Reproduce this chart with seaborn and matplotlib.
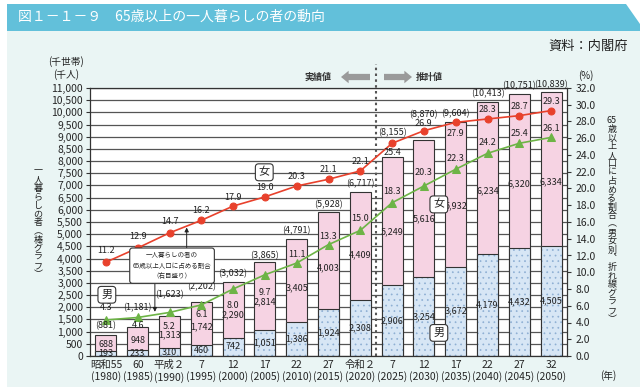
import numpy as np
import pandas as pd
import matplotlib
matplotlib.use("Agg")
import matplotlib.pyplot as plt
from matplotlib.patches import Polygon, Rectangle
from matplotlib.ticker import MultipleLocator, FuncFormatter
import seaborn as sns

sns.set_theme(style="white")
plt.rcParams["font.family"] = ["Noto Sans CJK JP", "DejaVu Sans"]
plt.rcParams["hatch.linewidth"] = 0.5

# ── data ─────────────────────────────────────────────────────────────────────
years = [1980, 1985, 1990, 1995, 2000, 2005, 2010, 2015, 2020,
         2025, 2030, 2035, 2040, 2045, 2050]
era_labels = ["昭和55", "60", "平成２", "7", "12", "17", "22", "27", "令和２",
              "7", "12", "17", "22", "27", "32"]
male = [193, 233, 310, 460, 742, 1051, 1386, 1924, 2308,
        2906, 3254, 3672, 4179, 4432, 4505]
female = [688, 948, 1313, 1742, 2290, 2814, 3405, 4003, 4409,
          5249, 5616, 5932, 6234, 6320, 6334]
total = [881, 1181, 1623, 2202, 3032, 3865, 4791, 5928, 6717,
         8155, 8870, 9604, 10413, 10751, 10839]
female_pct = [11.2, 12.9, 14.7, 16.2, 17.9, 19.0, 20.3, 21.1, 22.1,
              25.4, 26.9, 27.9, 28.3, 28.7, 29.3]
male_pct = [4.3, 4.6, 5.2, 6.1, 8.0, 9.7, 11.1, 13.3, 15.0,
            18.3, 20.3, 22.3, 24.2, 25.4, 26.1]

# label offsets (points) – placement only
total_dy = [6.5, 14, 16, 11, 6, 4.5, 6, 5, 6.5, 18, 18, 6, 6, 6, 5]
female_dy = [8.5, 8.5, 8.5, 7, 6.5, 7, 7, 7, 6.5, -7, 5.5, -8, 7, 6.5, 6.5]
male_dy = [9, -6, -10, -7, -12, -13, 6.5, 6, 8.5, 8, 9.5, 8, 8, 7, 6.5]

PINK = "#F6D3E3"
BLUE = "#D7E6F5"
DOTS = "#8EAFD3"
RED = "#E8412C"
GREEN = "#6DB446"
EDGE = "#333333"
BG = "#EAF5F4"
BANNER = "#62C0DA"

df = pd.DataFrame({"year": [str(y) for y in years], "male": male,
                   "female": female, "total": total})
order = df["year"].tolist()
pos = np.arange(len(years))

W, H = 640, 387


def fx(px):
    return px / W


def fy(py):
    return 1 - py / H


fig = plt.figure(figsize=(6.4, 3.87), dpi=100)
fig.patch.set_facecolor("white")

# background panel + title banner
fig.patches.append(Rectangle((fx(7), 0), 1, fy(30), transform=fig.transFigure,
                             facecolor=BG, edgecolor="none", zorder=-10))
fig.patches.append(Polygon([(fx(7), fy(4)), (fx(626), fy(4)), (fx(640), fy(24)),
                            (fx(640), fy(31)), (fx(7), fy(31))],
                           closed=True, transform=fig.transFigure,
                           facecolor=BANNER, edgecolor="none", zorder=-9))
fig.text(fx(18), fy(17), "図１－１－９　65歳以上の一人暮らしの者の動向",
         color="white", fontsize=10, va="center", ha="left")
fig.text(fx(628), fy(46), "資料：内閣府", fontsize=9.5, va="center", ha="right",
         color="#222")

ax = fig.add_axes([fx(90), fy(356), (567 - 90) / W, (356 - 88) / H])
ax.set_facecolor("white")

# ── bars ─────────────────────────────────────────────────────────────────────
sns.barplot(data=df, x="year", y="total", order=order, color=PINK,
            saturation=1, width=0.66, edgecolor=EDGE, linewidth=0.8, ax=ax)
sns.barplot(data=df, x="year", y="male", order=order, color=BLUE,
            saturation=1, width=0.66, edgecolor=DOTS, linewidth=0,
            hatch="...", ax=ax)
sns.barplot(data=df, x="year", y="male", order=order, color=EDGE,
            fill=False, width=0.66, linewidth=0.8, ax=ax)

ax.set_xlim(-0.5, 14.5)
ax.set_ylim(0, 11000)
ax.yaxis.set_major_locator(MultipleLocator(500))
ax.yaxis.set_major_formatter(FuncFormatter(lambda v, _: f"{v:,.0f}"))
ax.grid(axis="y", color="#555555", lw=0.9)
ax.set_axisbelow(True)
ax.set_xticks(pos)
ax.set_xticklabels([f"{e}\n({y})" for e, y in zip(era_labels, years)],
                   fontsize=7.5, linespacing=1.15)
ax.tick_params(axis="x", length=0, pad=3)
ax.tick_params(axis="y", length=3, width=0.8, labelsize=7.5, pad=2,
               left=True, color=EDGE)
ax.set_xlabel("")
ax.set_ylabel("")
for s in ax.spines.values():
    s.set_color(EDGE)
    s.set_linewidth(0.9)

# projection divider
ax.axvline(8.5, ymin=0, ymax=1.09, color="#555555", ls=(0, (1.2, 1.6)),
           lw=1.5, clip_on=False, zorder=5)

# ── lines (right axis) ───────────────────────────────────────────────────────
ax2 = ax.twinx()
sns.lineplot(x=pos, y=female_pct, ax=ax2, color=RED, marker="o",
             markersize=5, markeredgecolor=RED, lw=1.2)
sns.lineplot(x=pos, y=male_pct, ax=ax2, color=GREEN, marker="^",
             markersize=5.5, markeredgecolor=GREEN, lw=1.2)
ax2.set_ylim(0, 32)
ax2.yaxis.set_major_locator(MultipleLocator(2))
ax2.yaxis.set_major_formatter(FuncFormatter(lambda v, _: f"{v:.1f}"))
ax2.tick_params(axis="y", length=3, width=0.8, labelsize=7.5, pad=3,
                right=True, color=EDGE)
ax2.grid(False)
ax2.set_ylabel("")
for s in ax2.spines.values():
    s.set_visible(False)

# ── value labels ─────────────────────────────────────────────────────────────
lab = dict(ha="center", va="center", fontsize=6.5, color="#222",
           textcoords="offset points")
for i in range(len(years)):
    ax2.annotate(f"({total[i]:,})", (i, total[i]), xycoords=ax.transData,
                 xytext=(0, total_dy[i]), annotation_clip=False, **lab)
    ax2.annotate(f"{female[i]:,}", (i, male[i] + female[i] * 0.42),
                 xycoords=ax.transData, xytext=(0, 0), **lab)
    ax2.annotate(f"{male[i]:,}", (i, male[i] / 2), xycoords=ax.transData,
                 xytext=(0, 0), **lab)
    ax2.annotate(f"{female_pct[i]:.1f}", (i, female_pct[i]),
                 xytext=(0, female_dy[i]), **lab)
    ax2.annotate(f"{male_pct[i]:.1f}", (i, male_pct[i]),
                 xytext=(0, male_dy[i]), **lab)

box = dict(boxstyle="round,pad=0.3,rounding_size=0.3", fc="white", ec=EDGE, lw=0.8)
for x, y, s in [(4.98, 7540, "女"), (10.47, 6222, "女"),
                (0.03, 2513, "男"), (10.47, 948, "男")]:
    ax2.text(x, y, s, transform=ax.transData, ha="center", va="center",
             fontsize=8, bbox=box, zorder=6)

# explanatory call-out
arrow = dict(arrowstyle="-|>", color="#222", lw=0.7, mutation_scale=6,
             shrinkA=0, shrinkB=0)
ax2.annotate("", xy=(2.54, 5274), xytext=(2.54, 4244), xycoords=ax.transData,
             textcoords=ax.transData, arrowprops=arrow, zorder=4)
ax2.annotate("", xy=(1.54, 1813), xytext=(1.54, 3173), xycoords=ax.transData,
             textcoords=ax.transData, arrowprops=arrow, zorder=4)
ax2.text(2.08, 3708, "一人暮らしの者の\n65歳以上人口に占める割合\n（右目盛り）",
         transform=ax.transData, ha="center", va="center", fontsize=4.7,
         linespacing=1.45, zorder=6,
         bbox=dict(boxstyle="round,pad=0.45,rounding_size=0.4", fc="white",
                   ec=EDGE, lw=0.8))

# ── header arrows / axis captions ────────────────────────────────────────────
fig.text(fx(318), fy(77), "実績値", fontsize=6.5, ha="center", va="center",
         color="#333", weight="bold")
fig.text(fx(429), fy(77), "推計値", fontsize=6.5, ha="center", va="center",
         color="#333", weight="bold")
big_arrow = dict(arrowstyle="simple,head_length=0.55,head_width=0.9,tail_width=0.45",
                 fc="#9A9A9A", ec="none", mutation_scale=10, shrinkA=0, shrinkB=0)
ax.annotate("", xy=(341, H - 77), xytext=(370, H - 77), xycoords="figure pixels",
            textcoords="figure pixels", arrowprops=big_arrow)
ax.annotate("", xy=(412, H - 77), xytext=(384, H - 77), xycoords="figure pixels",
            textcoords="figure pixels", arrowprops=big_arrow)

fig.text(fx(66), fy(68), "(千世帯)\n(千人)", fontsize=7, ha="center",
         va="center", linespacing=1.2, color="#222")
fig.text(fx(586), fy(76), "(%)", fontsize=7, ha="center", va="center",
         color="#222")
fig.text(fx(608), fy(376), "(年)", fontsize=7, ha="center", va="center",
         color="#222")


def vtext(x, y, s):
    fig.text(fx(x), fy(y), "\n".join(s), fontsize=6.5, ha="center",
             va="center", linespacing=0.95, color="#222")


vtext(38, 223, "一人暮らしの者︵棒グラフ︶")
vtext(612, 220, ["65"] + list("歳以上人口に占める割合︵男女別︑折れ線グラフ︶"))

plt.savefig("out.png", dpi=100)
plt.close()
